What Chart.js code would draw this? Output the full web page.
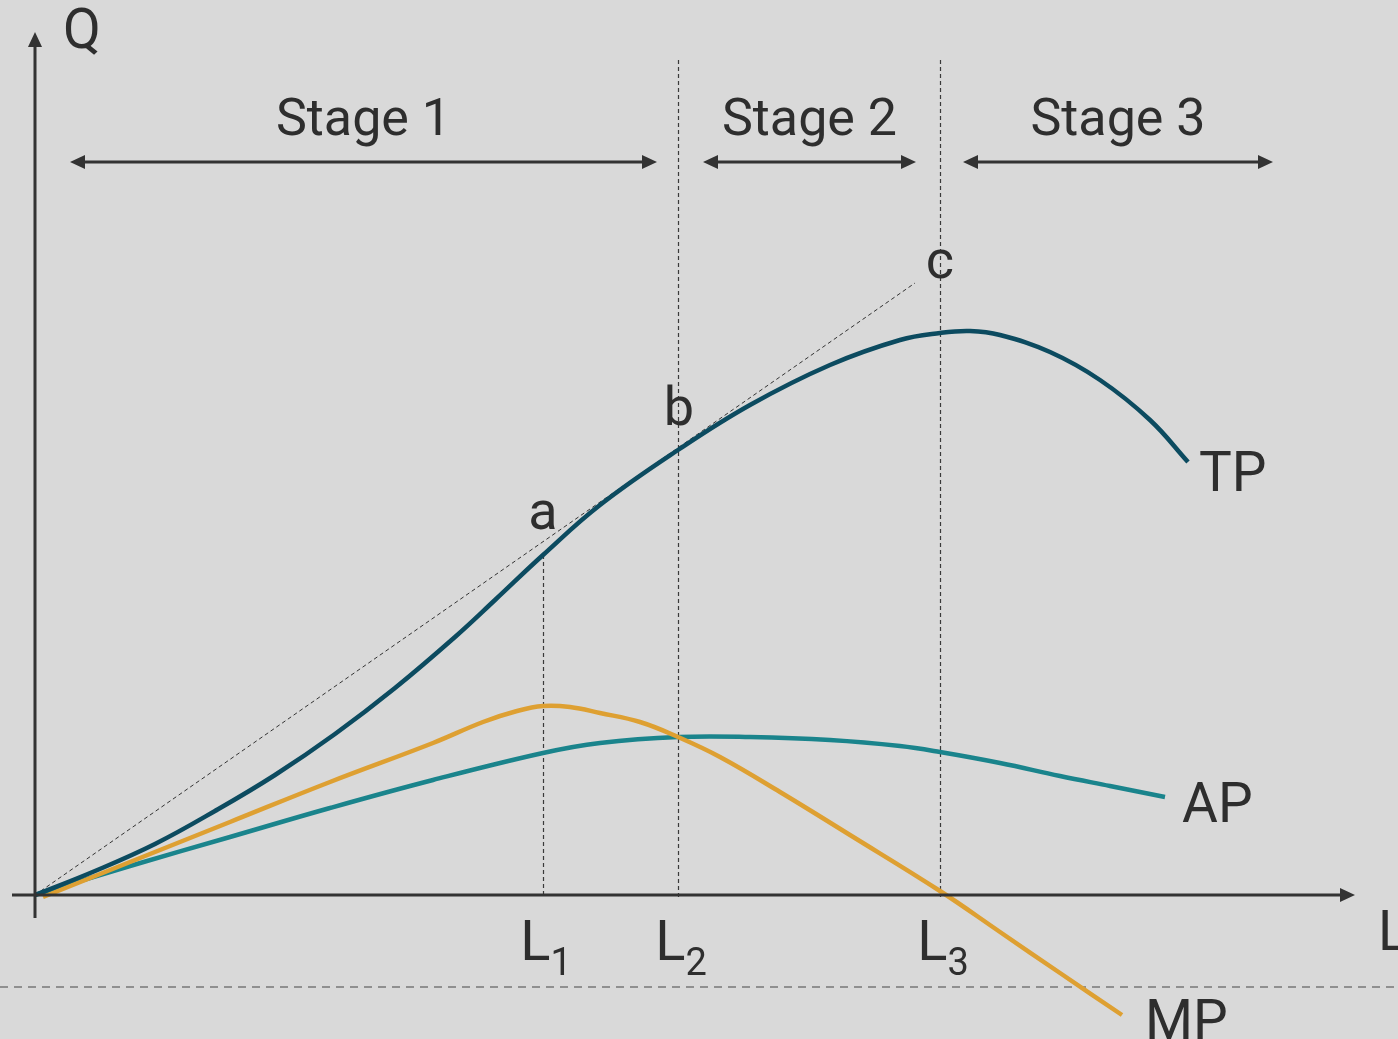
<!DOCTYPE html>
<html>
<head>
<meta charset="utf-8">
<script src="https://cdn.jsdelivr.net/npm/chart.js@4/dist/chart.umd.min.js"></script>
<style>
  html, body { margin: 0; padding: 0; background: #d9d9d9; }
  canvas { display: block; }
</style>
</head>
<body>
<canvas id="c" width="1398" height="1039"></canvas>
<script>
// ---- Data (L on x, Q on y) ----
const tpX = [0, 6, 12, 18, 24, 30, 36, 42, 46, 50.8, 56.5, 64.3, 71.5, 79.5, 86.5, 90.5, 93.5, 96.5, 101.5, 106.5, 111.5, 115.3];
const tpY = [0, 2.4, 5.1, 8.4, 12.0, 16.1, 20.7, 25.8, 29.5, 34.0, 39.0, 44.5, 49.0, 53.0, 55.5, 56.2, 56.4, 56.0, 54.3, 51.5, 47.5, 43.3];
const apX = [0, 9.5, 19.5, 29.5, 39.8, 50.8, 56.5, 64.3, 71.5, 79.5, 86.5, 90.5, 96.5, 102.5, 107.5, 113];
const apY = [0, 2.9, 5.8, 8.7, 11.5, 14.2, 15.2, 15.8, 15.8, 15.5, 14.9, 14.3, 13.2, 11.9, 10.9, 9.8];
const mpX = [0.8, 9.5, 19.5, 29.5, 39.8, 44.8, 48.2, 50.8, 53.5, 56.5, 60.5, 64.3, 68.5, 74.5, 81.5, 90.5, 96.5, 102.5, 108.7];
const mpY = [-0.2, 3.3, 7.3, 11.3, 15.2, 17.3, 18.4, 18.9, 18.8, 18.2, 17.3, 15.8, 13.8, 10.3, 6.0, 0.4, -3.7, -7.8, -12.0];
const tangentX = [0, 88];
const tangentY = [0, 61.2];

const lPositions = [50.8, 64.3, 90.5];
const lSubscripts = ['1', '2', '3'];
const lTopY = [34.0, 83.5, 83.5];

const stageLabels = ['Stage 1', 'Stage 2', 'Stage 3'];
const stageFrom = [3.5, 66.8, 92.8];
const stageTo = [62.2, 88.1, 123.8];
const stageArrowY = 73.3;
const stageTextY = 76.0;

const pointLabels = ['a', 'b', 'c'];
const pointLabelX = [50.8, 64.4, 90.5];
const pointLabelY = [36.6, 47.0, 61.7];

const curveLabels = ['TP', 'AP', 'MP'];
const curveLabelX = [116.4, 114.7, 111.0];
const curveLabelY = [40.4, 7.3, -14.4];

const TEXT = '#2e2e2e';
const FONT = 'Roboto, "Open Sans", sans-serif';

function pts(xs, ys) { return xs.map((x, i) => ({ x, y: ys[i] })); }

function arrowHead(ctx, x, y, dir, len, half) {
  ctx.beginPath();
  if (dir === 'right') { ctx.moveTo(x, y); ctx.lineTo(x - len, y - half); ctx.lineTo(x - len, y + half); }
  else if (dir === 'left') { ctx.moveTo(x, y); ctx.lineTo(x + len, y - half); ctx.lineTo(x + len, y + half); }
  else { ctx.moveTo(x, y); ctx.lineTo(x - half, y + len); ctx.lineTo(x + half, y + len); }
  ctx.closePath();
  ctx.fill();
}

const decor = {
  id: 'decor',
  beforeDatasetsDraw(chart) {
    const ctx = chart.ctx, xs = chart.scales.x, ys = chart.scales.y;
    ctx.save();
    ctx.strokeStyle = '#8f8f8f'; ctx.lineWidth = 2; ctx.setLineDash([8, 6]);
    ctx.beginPath();
    const yd = ys.getPixelForValue(-9.2);
    ctx.moveTo(0, yd); ctx.lineTo(chart.width, yd); ctx.stroke();
    ctx.strokeStyle = '#3a3a3a'; ctx.lineWidth = 1.2; ctx.setLineDash([4, 3]);
    lPositions.forEach((lx, i) => {
      const px = Math.round(xs.getPixelForValue(lx)) + 0.5;
      ctx.beginPath();
      ctx.moveTo(px, ys.getPixelForValue(lTopY[i]));
      ctx.lineTo(px, ys.getPixelForValue(-0.3));
      ctx.stroke();
    });
    ctx.restore();
  },
  afterDatasetsDraw(chart) {
    const ctx = chart.ctx, xs = chart.scales.x, ys = chart.scales.y;
    const ox = xs.getPixelForValue(0), oy = ys.getPixelForValue(0);
    ctx.save();
    ctx.setLineDash([]);
    ctx.strokeStyle = '#333'; ctx.fillStyle = '#333'; ctx.lineWidth = 3;
    const yTop = ys.getPixelForValue(86.3);
    ctx.beginPath(); ctx.moveTo(ox, ys.getPixelForValue(-2.3)); ctx.lineTo(ox, yTop + 12); ctx.stroke();
    arrowHead(ctx, ox, yTop, 'up', 15, 7);
    const xRight = xs.getPixelForValue(132);
    ctx.beginPath(); ctx.moveTo(xs.getPixelForValue(-2.3), oy); ctx.lineTo(xRight - 12, oy); ctx.stroke();
    arrowHead(ctx, xRight, oy, 'right', 15, 7);
    const ay = ys.getPixelForValue(stageArrowY);
    stageLabels.forEach((lab, i) => {
      const x1 = xs.getPixelForValue(stageFrom[i]), x2 = xs.getPixelForValue(stageTo[i]);
      ctx.lineWidth = 3;
      ctx.beginPath(); ctx.moveTo(x1 + 10, ay); ctx.lineTo(x2 - 10, ay); ctx.stroke();
      arrowHead(ctx, x1, ay, 'left', 15, 7);
      arrowHead(ctx, x2, ay, 'right', 15, 7);
      ctx.fillStyle = TEXT;
      ctx.font = '52px ' + FONT;
      ctx.textAlign = 'center'; ctx.textBaseline = 'alphabetic';
      ctx.fillText(lab, (x1 + x2) / 2, ys.getPixelForValue(stageTextY));
      ctx.fillStyle = '#333';
    });
    ctx.fillStyle = TEXT;
    ctx.textBaseline = 'alphabetic';
    ctx.font = '54px ' + FONT; ctx.textAlign = 'center';
    pointLabels.forEach((t, i) => ctx.fillText(t, xs.getPixelForValue(pointLabelX[i]), ys.getPixelForValue(pointLabelY[i])));
    ctx.font = '55px ' + FONT; ctx.textAlign = 'left';
    curveLabels.forEach((t, i) => ctx.fillText(t, xs.getPixelForValue(curveLabelX[i]), ys.getPixelForValue(curveLabelY[i])));
    ctx.fillText('Q', xs.getPixelForValue(2.8), ys.getPixelForValue(84.7));
    ctx.fillText('L', xs.getPixelForValue(134.3), ys.getPixelForValue(-5.5));
    lPositions.forEach((lx, i) => {
      ctx.font = '56px ' + FONT;
      const wL = ctx.measureText('L').width;
      ctx.font = '38px ' + FONT;
      const wS = ctx.measureText(lSubscripts[i]).width;
      const start = xs.getPixelForValue(lx) - (wL + wS) / 2 + 3;
      ctx.textAlign = 'left';
      ctx.font = '56px ' + FONT;
      ctx.fillText('L', start, ys.getPixelForValue(-6.5));
      ctx.font = '38px ' + FONT;
      ctx.fillText(lSubscripts[i], start + wL, ys.getPixelForValue(-8.0));
    });
    ctx.restore();
  }
};

new Chart(document.getElementById('c'), {
  type: 'scatter',
  data: {
    datasets: [
      { label: 'tangent', data: pts(tangentX, tangentY), showLine: true, borderColor: '#333', borderWidth: 1, borderDash: [4, 3], pointRadius: 0, order: 4 },
      { label: 'AP', data: pts(apX, apY), showLine: true, borderColor: '#1a848c', borderWidth: 4.5, pointRadius: 0, tension: 0.4, order: 3 },
      { label: 'MP', data: pts(mpX, mpY), showLine: true, borderColor: '#dea032', borderWidth: 4.5, pointRadius: 0, tension: 0.4, order: 2 },
      { label: 'TP', data: pts(tpX, tpY), showLine: true, borderColor: '#0c4b60', borderWidth: 4.5, pointRadius: 0, tension: 0.4, order: 1 }
    ]
  },
  options: {
    responsive: false,
    animation: false,
    devicePixelRatio: 1,
    clip: false,
    layout: { padding: { left: 35, right: 43, top: 25, bottom: 0 } },
    plugins: { legend: { display: false }, tooltip: { enabled: false } },
    scales: {
      x: { type: 'linear', display: false, min: 0, max: 132 },
      y: { type: 'linear', display: false, min: -14.4, max: 87.0 }
    }
  },
  plugins: [decor]
});
</script>
</body>
</html>
